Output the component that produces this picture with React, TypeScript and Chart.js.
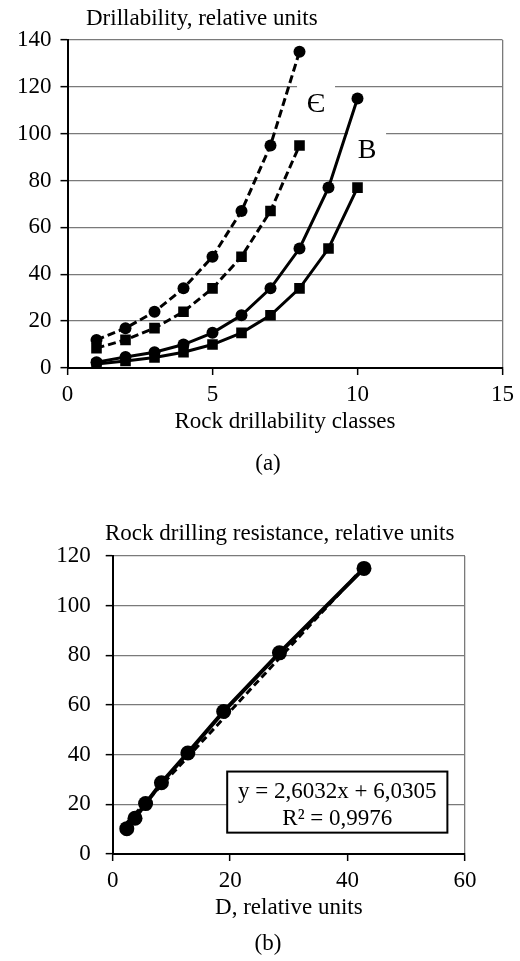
import React, { useEffect, useRef } from "react";
import { Chart, registerables } from "chart.js";
Chart.register(...registerables);

// ---------- Chart (a) data ----------
const classesE = [1, 2, 3, 4, 5, 6, 7, 8];
const classesB = [1, 2, 3, 4, 5, 6, 7, 8, 9, 10];
const eUpper = [12, 17, 24, 34, 47.5, 67, 95, 135];
const eLower = [8.5, 12, 17, 24, 34, 47.5, 67, 95];
const bUpper = [2.5, 4.7, 6.7, 10, 15, 22.5, 34, 51, 77, 115];
const bLower = [1.7, 3, 4.5, 6.7, 10, 15, 22.5, 34, 51, 77];
const curveLabelText = ["Є", "B"];
const curveLabelX = [8.57, 10.33];
const curveLabelY = [113.5, 93.8];

// ---------- Chart (b) data ----------
const dValues = [2.4, 3.8, 5.6, 8.3, 12.8, 18.9, 28.4, 42.8];
const resistanceValues = [10.2, 14.4, 20.3, 28.7, 40.7, 57.4, 81, 115];
const trendX = [2.4, 42.8];
const trendY = [12.6, 115.6];
const equationLines = ["y = 2,6032x + 6,0305", "R² = 0,9976"];
const eqBoxX = [19.5, 57];
const eqBoxY = [33.2, 8.6];

const FONT = "'Liberation Serif', 'Times New Roman', serif";
const FS = 23;
const GRID = "#7a7a7a";

const pts = (xs: number[], ys: number[]) => xs.map((x, i) => ({ x, y: ys[i] }));

function scaleCommon(min: number, max: number, step: number, pad: number, isX: boolean, titleText?: string, size?: number) {
  return {
    type: "linear" as const,
    min,
    max,
    afterFit: (s: any) => {
      if (isX) s.height = size;
      else s.width = size;
    },
    ticks: {
      stepSize: step,
      color: "#000",
      padding: pad,
      font: { family: FONT, size: FS },
    },
    grid: {
      color: (ctx: any) => (isX ? (ctx.tick && ctx.tick.value === max ? GRID : "rgba(0,0,0,0)") : GRID),
      lineWidth: 1.3,
      tickColor: "#000",
      tickLength: 7,
      tickWidth: 1.5,
    },
    border: { color: "#000", width: 2 },
    title: titleText
      ? { display: true, text: titleText, color: "#000", font: { family: FONT, size: FS }, padding: 0 }
      : { display: false },
  };
}

const curveLabelsPlugin = {
  id: "curveLabels",
  beforeDatasetsDraw(chart: any) {
    const { ctx, scales } = chart;
    ctx.save();
    ctx.font = `28px ${FONT}`;
    ctx.textAlign = "center";
    ctx.textBaseline = "alphabetic";
    curveLabelText.forEach((t, i) => {
      const px = scales.x.getPixelForValue(curveLabelX[i]);
      const py = scales.y.getPixelForValue(curveLabelY[i]);
      ctx.fillStyle = "#fff";
      ctx.fillRect(px - 19, py - 20, 38, 40);
      ctx.fillStyle = "#000";
      ctx.fillText(t, px, py + 9.5);
    });
    ctx.restore();
  },
};

const equationPlugin = {
  id: "equationBox",
  afterDatasetsDraw(chart: any) {
    const { ctx, scales } = chart;
    const x0 = scales.x.getPixelForValue(eqBoxX[0]);
    const x1 = scales.x.getPixelForValue(eqBoxX[1]);
    const y0 = scales.y.getPixelForValue(eqBoxY[0]);
    const y1 = scales.y.getPixelForValue(eqBoxY[1]);
    ctx.save();
    ctx.fillStyle = "#fff";
    ctx.fillRect(x0, y0, x1 - x0, y1 - y0);
    ctx.strokeStyle = "#000";
    ctx.lineWidth = 2;
    ctx.strokeRect(x0, y0, x1 - x0, y1 - y0);
    ctx.fillStyle = "#000";
    ctx.font = `${FS}px ${FONT}`;
    ctx.textAlign = "center";
    ctx.textBaseline = "middle";
    const cx = (x0 + x1) / 2;
    ctx.fillText(equationLines[0], cx, y0 + 20);
    ctx.fillText(equationLines[1], cx, y0 + 47);
    ctx.restore();
  },
};

function useChart(ref: React.RefObject<HTMLCanvasElement>, makeConfig: () => any) {
  useEffect(() => {
    if (!ref.current) return;
    const chart = new Chart(ref.current, makeConfig());
    return () => chart.destroy();
  }, []);
}

const lineDs = (data: any[], dashed: boolean, style: string, radius: number, width: number) => ({
  data,
  borderColor: "#000",
  backgroundColor: "#000",
  borderWidth: width,
  borderDash: dashed ? [8, 4] : [],
  pointStyle: style,
  pointRadius: radius,
  pointBackgroundColor: "#000",
  pointBorderColor: "#000",
  pointBorderWidth: 0,
  tension: 0,
  fill: false,
});

export default function App() {
  const refA = useRef<HTMLCanvasElement>(null);
  const refB = useRef<HTMLCanvasElement>(null);

  useChart(refA, () => ({
    type: "line",
    data: {
      datasets: [
        lineDs(pts(classesE, eUpper), true, "circle", 6, 3),
        lineDs(pts(classesE, eLower), true, "rect", 7.5, 3),
        lineDs(pts(classesB, bUpper), false, "circle", 6, 3),
        lineDs(pts(classesB, bLower), false, "rect", 7.5, 3),
      ],
    },
    options: {
      responsive: false,
      animation: false,
      layout: { padding: { top: 40, left: 0, right: 16, bottom: 44.5 } },
      plugins: { legend: { display: false }, tooltip: { enabled: false } },
      scales: {
        x: scaleCommon(0, 15, 5, 6, true, "Rock drillability classes", 67.5),
        y: scaleCommon(0, 140, 20, 9, false, undefined, 67.5),
      },
    },
    plugins: [curveLabelsPlugin],
  }));

  useChart(refB, () => ({
    type: "line",
    data: {
      datasets: [
        lineDs(pts(dValues, resistanceValues), false, "circle", 7.5, 4),
        { ...lineDs(pts(trendX, trendY), true, "circle", 0, 3), borderDash: [7, 4] },
      ],
    },
    options: {
      responsive: false,
      animation: false,
      layout: { padding: { top: 76, left: 0, right: 55, bottom: 39 } },
      plugins: { legend: { display: false }, tooltip: { enabled: false } },
      scales: {
        x: scaleCommon(0, 60, 20, 6, true, "D, relative units", 68),
        y: scaleCommon(0, 120, 20, 15, false, undefined, 112.7),
      },
    },
    plugins: [equationPlugin],
  }));

  const text: React.CSSProperties = {
    position: "absolute",
    fontFamily: FONT,
    fontSize: FS,
    lineHeight: "26px",
    color: "#000",
    whiteSpace: "nowrap",
  };

  return (
    <div style={{ position: "absolute", left: 0, top: 0, width: 520, height: 961, background: "#fff" }}>
      <canvas ref={refA} width={520} height={480} style={{ position: "absolute", left: 0, top: 0, width: 520, height: 480 }} />
      <canvas ref={refB} width={520} height={481} style={{ position: "absolute", left: 0, top: 480, width: 520, height: 481 }} />
      <div style={{ ...text, left: 86, top: 5 }}>Drillability, relative units</div>
      <div style={{ ...text, left: 268, top: 450, transform: "translateX(-50%)" }}>(a)</div>
      <div style={{ ...text, left: 105, top: 520 }}>Rock drilling resistance, relative units</div>
      <div style={{ ...text, left: 268, top: 930, transform: "translateX(-50%)" }}>(b)</div>
    </div>
  );
}
